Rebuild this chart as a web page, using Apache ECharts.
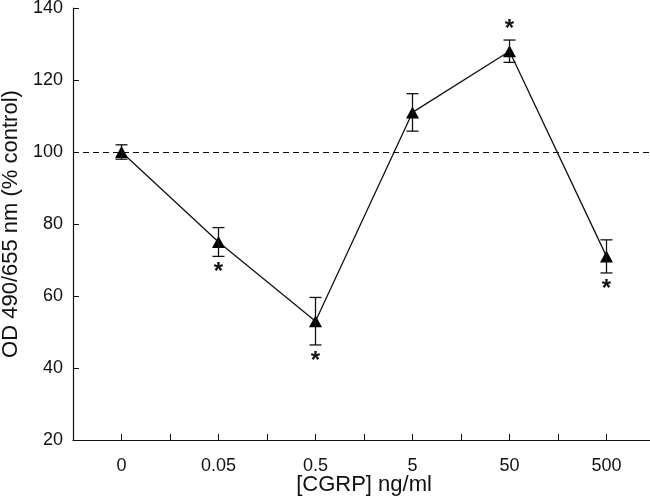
<!DOCTYPE html>
<html>
<head>
<meta charset="utf-8">
<script src="https://cdn.jsdelivr.net/npm/echarts@6/dist/echarts.min.js"></script>
<style>html,body{margin:0;padding:0;background:#fff;}#c{width:650px;height:499px;}</style>
</head>
<body>
<div id="c"></div>
<script>
var categories = ['0', '0.05', '0.5', '5', '50', '500'];
var means = [100, 75, 53, 111, 128, 71];
var errors = [2, 4, 6.6, 5.2, 3.1, 4.6];
// significance: 'below', 'above' or ''
var signif = ['', 'below', 'below', '', 'above', 'below'];
var yTicks = [20, 40, 60, 80, 100, 120, 140];
var controlLevel = 100;

var font = 'Liberation Sans, Arial, sans-serif';
var lineData = means.map(function (v, i) { return [i, v]; });
var errData = means.map(function (v, i) { return [i, v - errors[i], v + errors[i], signif[i]]; });

var chart = echarts.init(document.getElementById('c'));
chart.setOption({
  animation: false,
  grid: { left: 73, right: -5, top: 8, bottom: 59, containLabel: false, outerBoundsMode: 'none' },
  xAxis: {
    type: 'value', min: -0.5, max: 5.5, interval: 0.5,
    name: '[CGRP] ng/ml', nameLocation: 'middle', nameGap: 34, nameMoveOverlap: false,
    nameTextStyle: { fontFamily: font, fontSize: 22, color: '#111' },
    axisLine: { onZero: false, lineStyle: { color: '#111', width: 1.2 } },
    axisTick: { inside: true, length: 6, lineStyle: { color: '#111' } },
    splitLine: { show: false },
    axisLabel: {
      fontFamily: font, fontSize: 18, color: '#111', margin: 17,
      formatter: function (v) {
        return (Math.abs(v - Math.round(v)) < 1e-6 && v >= 0 && v < categories.length) ? categories[Math.round(v)] : '';
      }
    }
  },
  yAxis: {
    type: 'value', min: yTicks[0], max: yTicks[yTicks.length - 1], interval: 20,
    name: 'OD 490/655 nm (% control)', nameLocation: 'middle', nameGap: 51, nameMoveOverlap: false,
    nameTextStyle: { fontFamily: font, fontSize: 22, color: '#111' },
    axisLine: { show: true, onZero: false, lineStyle: { color: '#111', width: 1.2 } },
    axisTick: { show: true, inside: true, length: 6, lineStyle: { color: '#111' } },
    splitLine: { show: false },
    axisLabel: { fontFamily: font, fontSize: 18, color: '#111', margin: 10 }
  },
  series: [
    {
      type: 'line',
      data: lineData,
      symbol: 'triangle', symbolSize: [13, 12],
      lineStyle: { color: '#111', width: 1.3 },
      itemStyle: { color: '#000' },
      z: 3,
      markLine: {
        silent: true, symbol: 'none', label: { show: false },
        lineStyle: { color: '#111', type: [6, 4], width: 1.2 },
        data: [{ yAxis: controlLevel }]
      }
    },
    {
      type: 'custom',
      data: errData,
      z: 4,
      renderItem: function (params, api) {
        var x = api.value(0);
        var lo = api.coord([x, api.value(1)]);
        var hi = api.coord([x, api.value(2)]);
        var cx = lo[0];
        var w = 6;
        var style = { stroke: '#111', lineWidth: 1.3 };
        var children = [
          { type: 'line', shape: { x1: cx, y1: lo[1], x2: cx, y2: hi[1] }, style: style },
          { type: 'line', shape: { x1: cx - w, y1: lo[1], x2: cx + w, y2: lo[1] }, style: style },
          { type: 'line', shape: { x1: cx - w, y1: hi[1], x2: cx + w, y2: hi[1] }, style: style }
        ];
        var s = errData[params.dataIndex][3];
        if (s) {
          var ty = s === 'below' ? lo[1] + 16 : hi[1] - 11;
          children.push({
            type: 'text',
            style: { text: '*', x: cx, y: ty, align: 'center', verticalAlign: 'middle',
                     fontFamily: font, fontSize: 24, fontWeight: 'bold', fill: '#111' }
          });
        }
        return { type: 'group', children: children };
      }
    }
  ]
});
</script>
</body>
</html>
